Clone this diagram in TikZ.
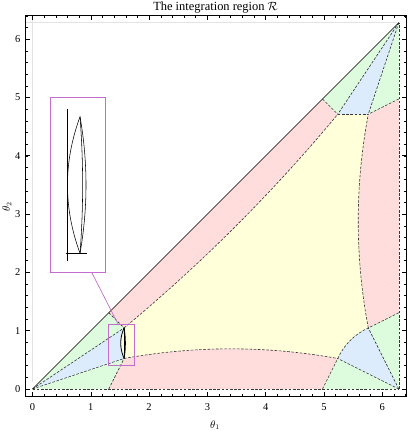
\documentclass[tikz,border=0pt]{standalone}
\usepackage{fontspec}
\setmainfont{Liberation Serif}
\definecolor{rgreen}{RGB}{221,251,221}
\definecolor{rblue}{RGB}{221,236,252}
\definecolor{rpink}{RGB}{255,221,221}
\definecolor{ryellow}{RGB}{255,255,217}
\definecolor{boxmag}{RGB}{195,110,205}
\definecolor{dashgray}{RGB}{55,55,55}
\begin{document}
\begin{tikzpicture}[x=1bp,y=1bp,
  edge/.style={draw=dashgray,line width=0.6bp,dash pattern=on 2.6bp off 1.6bp},
  lensline/.style={draw=black,line width=0.8bp},
  insline/.style={draw=black,line width=0.55bp},
  magbox/.style={draw=boxmag,line width=0.7bp},
  ticklab/.style={font=\fontsize{10.5}{12}\selectfont},
  axlab/.style={font=\fontsize{10.5}{12}\selectfont}]
\useasboundingbox (0,0) rectangle (408,431);
\begin{scope}[shift={(32.5bp,42bp)},x=58.3bp,y=58.3bp]
% named points
\coordinate (A) at (0,0);
\coordinate (B) at ({2*pi},0);
\coordinate (C) at ({2*pi},{2*pi});
\coordinate (P1) at ({5*pi/12},{5*pi/12});
\coordinate (P2) at ({19*pi/12},{19*pi/12});
\coordinate (Q1) at ({5*pi/12},0);
\coordinate (Q2) at ({19*pi/12},0);
\coordinate (R1) at ({2*pi},{5*pi/12});
\coordinate (R2) at ({2*pi},{19*pi/12});
\coordinate (L1) at ({pi/2},{pi/3});
\coordinate (L2) at ({pi/2},{pi/6});
\coordinate (M1) at ({5*pi/3},{pi/6});
\coordinate (M2) at ({11*pi/6},{pi/3});
\coordinate (N1) at ({11*pi/6},{3*pi/2});
\coordinate (N2) at ({5*pi/3},{3*pi/2});
% control points
\coordinate (cb1) at ({pi/2+7*pi/18},{pi/6+0.22});
\coordinate (cb2) at ({5*pi/3-7*pi/18},{pi/6+0.22});
\coordinate (cu1) at ({pi/2+7*pi/18+0.113},{pi/3+7*pi/18-0.113});
\coordinate (cu2) at ({5*pi/3-7*pi/18+0.113},{3*pi/2-7*pi/18-0.113});
\coordinate (cr1) at ({11*pi/6-0.23},{pi/3+7*pi/18});
\coordinate (cr2) at ({11*pi/6-0.23},{3*pi/2-7*pi/18});
\coordinate (cB1) at ({5*pi/3+pi/18-0.064},{pi/6+pi/18+0.064});
\coordinate (cB2) at ({11*pi/6-pi/18-0.064},{pi/3-pi/18+0.064});
\coordinate (lL1) at ({pi/2-0.077},{pi/3-pi/18});
\coordinate (lL2) at ({pi/2-0.077},{pi/6+pi/18});
\coordinate (lM1) at ({pi/2+0.012},{pi/3-pi/18});
\coordinate (lM2) at ({pi/2+0.012},{pi/6+pi/18});
\coordinate (lR1) at ({pi/2+0.03},{pi/3-pi/18});
\coordinate (lR2) at ({pi/2+0.03},{pi/6+pi/18});
% light axes
\draw[gray!22,line width=1.3bp] (0,0.12) -- (0,6.41);
\draw[gray!22,line width=1.3bp] (-0.126,{2*pi}) -- ({2*pi-0.03},{2*pi});
% fills
\fill[ryellow] (A) -- (B) -- (C) -- cycle;
\fill[rgreen] (A) -- (P1) -- (L1) .. controls (lL1) and (lL2) .. (L2) -- (Q1) -- cycle;
\fill[rblue] (A) -- (L1) .. controls (lL1) and (lL2) .. (L2) -- cycle;
\fill[rpink] (Q1) -- (Q2) -- (M1) .. controls (cb2) and (cb1) .. (L2) -- cycle;
\fill[rpink] (P1) -- (P2) -- (N2) .. controls (cu2) and (cu1) .. (L1) -- cycle;
\fill[rpink] (R1) -- (R2) -- (N1) .. controls (cr2) and (cr1) .. (M2) -- cycle;
\fill[rgreen] (Q2) -- (B) -- (R1) -- (M2) .. controls (cB2) and (cB1) .. (M1) -- cycle;
\fill[rblue] (B) -- (M2) .. controls (cB2) and (cB1) .. (M1) -- cycle;
\fill[rgreen] (P2) -- (C) -- (R2) -- (N1) -- (N2) -- cycle;
\fill[rblue] (C) -- (N2) -- (N1) -- cycle;
% dashed boundaries
\draw[edge] (P1) -- (L1);
\draw[edge] (Q1) -- (L2);
\draw[edge] (A) -- (L1);
\draw[edge] (A) -- (L2);
\draw[edge] (L2) .. controls (cb1) and (cb2) .. (M1);
\draw[edge] (L1) .. controls (cu1) and (cu2) .. (N2);
\draw[edge] (M2) .. controls (cr1) and (cr2) .. (N1);
\draw[edge] (M1) .. controls (cB1) and (cB2) .. (M2);
\draw[edge] (Q2) -- (M1);
\draw[edge] (R1) -- (M2);
\draw[edge] (B) -- (M1);
\draw[edge] (B) -- (M2);
\draw[edge] (P2) -- (N2);
\draw[edge] (R2) -- (N1);
\draw[edge] (C) -- (N2);
\draw[edge] (C) -- (N1);
\draw[edge] (N2) -- (N1);
\draw[edge] (A) -- (B);
\draw[edge] (B) -- (C);
\draw[draw=black,line width=0.7bp] (A) -- (C);
% lens
\draw[lensline] (L1) .. controls (lL1) and (lL2) .. (L2);
\draw[lensline] (L1) .. controls (lM1) and (lM2) .. (L2);
\draw[lensline] (L1) .. controls (lR1) and (lR2) .. (L2);
% zoom box and inset
\coordinate (zb1) at (1.30,0.40);
\coordinate (zb2) at (1.75,1.11);
\coordinate (zbt) at (1.47,1.11);
\coordinate (ib1) at (0.30,2.00);
\coordinate (ib2) at (1.256,5.00);
\coordinate (ibb) at (1.015,2.00);
\draw[magbox] (zb1) rectangle (zb2);
\draw[magbox] (ib1) rectangle (ib2);
\draw[magbox] (ibb) -- (zbt);
\coordinate (iv1) at (0.597,4.80);
\coordinate (iv2) at (0.597,2.20);
\coordinate (ih1) at (0.575,2.328);
\coordinate (ih2) at (0.94,2.328);
\coordinate (it) at (0.815,4.67);
\coordinate (ibt) at (0.815,2.328);
\coordinate (icL1) at (0.528,3.889);
\coordinate (icL2) at (0.528,3.109);
\coordinate (icM1) at (0.875,3.889);
\coordinate (icM2) at (0.875,3.109);
\coordinate (icR1) at (0.952,3.889);
\coordinate (icR2) at (0.952,3.109);
\draw[insline,line width=0.4bp] (iv1) -- (iv2);
\draw[insline,line width=0.4bp] (ih1) -- (ih2);
\draw[insline] (it) .. controls (icL1) and (icL2) .. (ibt);
\draw[insline] (it) .. controls (icM1) and (icM2) .. (ibt);
\draw[insline] (it) .. controls (icR1) and (icR2) .. (ibt);
% frame
\coordinate (F1) at (-0.1257,-0.1257);
\coordinate (F2) at (6.4089,6.4089);
\draw[line width=1bp] (F1) rectangle (F2);
\foreach \i in {0,...,32} {
  \pgfmathsetmacro\t{\i*0.2}
  \draw[line width=0.5bp] (\t,-0.1257) -- ++(0,2.5bp);
  \draw[line width=0.5bp] (\t,6.4089) -- ++(0,-2.5bp);
  \draw[line width=0.5bp] (-0.1257,\t) -- ++(2.5bp,0);
  \draw[line width=0.5bp] (6.4089,\t) -- ++(-2.5bp,0);
}
\foreach \i in {0,...,6} {
  \draw[line width=0.6bp] (\i,-0.1257) -- ++(0,4.5bp);
  \draw[line width=0.6bp] (\i,6.4089) -- ++(0,-4.5bp);
  \draw[line width=0.6bp] (-0.1257,\i) -- ++(4.5bp,0);
  \draw[line width=0.6bp] (6.4089,\i) -- ++(-4.5bp,0);
  \node[ticklab,anchor=north] (xl\i) at (\i,-0.19) {\i};
  \node[ticklab,anchor=east] (yl\i) at (-0.15,\i) {\i};
}
\node[axlab] (xlab) at (3.13,-0.62) {$\theta_1$};
\node[axlab,rotate=90] (ylab) at (-0.44,3.13) {$\theta_2$};
\node[font=\fontsize{12.5}{14}\selectfont] (title) at (3.14,6.54) {The integration region $\mathcal{R}$};
\end{scope}
\end{tikzpicture}
\end{document}
